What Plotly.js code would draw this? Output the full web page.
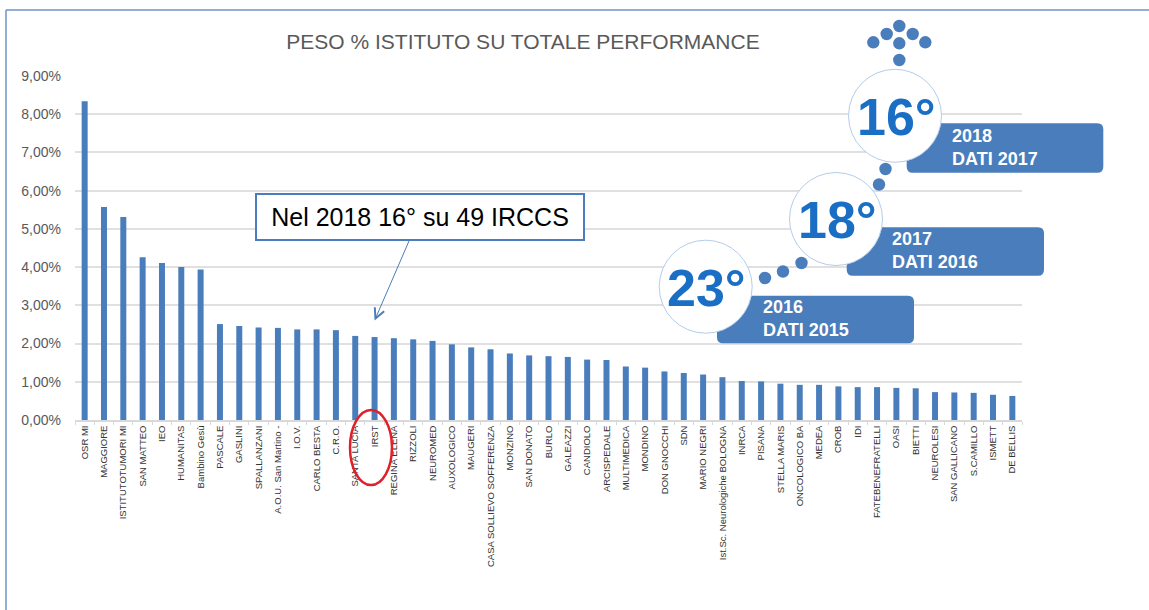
<!DOCTYPE html>
<html>
<head>
<meta charset="utf-8">
<script src="https://cdn.plot.ly/plotly-3.0.1.min.js"></script>
<style>
  body { margin: 0; background: #fff; }
  #chart { width: 1149px; height: 610px; }
</style>
</head>
<body>
<div id="chart"></div>
<script>
// peso % di ogni istituto sul totale performance
var istituti = ["OSR MI", "MAGGIORE", "ISTITUTOTUMORI MI", "SAN MATTEO", "IEO", "HUMANITAS",
  "Bambino Gesù", "PASCALE", "GASLINI", "SPALLANZANI", "A.O.U. San Martino -", "I.O.V.",
  "CARLO BESTA", "C.R.O.", "SANTA LUCIA", "IRST", "REGINA ELENA", "RIZZOLI", "NEUROMED",
  "AUXOLOGICO", "MAUGERI", "CASA SOLLIEVO SOFFERENZA", "MONZINO", "SAN DONATO", "BURLO",
  "GALEAZZI", "CANDIOLO", "ARCISPEDALE", "MULTIMEDICA", "MONDINO", "DON GNOCCHI", "SDN",
  "MARIO NEGRI", "Ist.Sc. Neurologiche BOLOGNA", "INRCA", "PISANA", "STELLA MARIS",
  "ONCOLOGICO BA", "MEDEA", "CROB", "IDI", "FATEBENEFRATELLI", "OASI", "BIETTI",
  "NEUROLESI", "SAN GALLICANO", "S.CAMILLO", "ISMETT", "DE BELLIS"];

var peso = [8.34, 5.57, 5.31, 4.26, 4.11, 4.00, 3.94, 2.51, 2.46, 2.42, 2.41, 2.37,
  2.37, 2.35, 2.20, 2.17, 2.14, 2.11, 2.07, 1.98, 1.90, 1.85, 1.74, 1.69, 1.67,
  1.65, 1.58, 1.57, 1.40, 1.37, 1.27, 1.23, 1.19, 1.12, 1.02, 1.01, 0.95,
  0.92, 0.92, 0.88, 0.86, 0.86, 0.84, 0.83, 0.73, 0.72, 0.71, 0.66, 0.63];

var yTicks = [0, 1, 2, 3, 4, 5, 6, 7, 8, 9];
var yTickText = ["0,00%", "1,00%", "2,00%", "3,00%", "4,00%", "5,00%", "6,00%", "7,00%", "8,00%", "9,00%"];

// posizioni (ranking) per anno
var posizioni = ["23°", "18°", "16°"];
var anni = ["2016<br>DATI 2015", "2017<br>DATI 2016", "2018<br>DATI 2017"];

var blu = "#4a7dbb";

// pixel -> paper, per le decorazioni
var L = 75, R = 1022, T = 76, B = 420;
function fx(p) { return (p - L) / (R - L); }
function fy(p) { return (B - p) / (B - T); }

function roundBox(x0, y0, x1, y1, r) {
  var p = "M" + fx(x0 + r) + "," + fy(y0) +
    " L" + fx(x1 - r) + "," + fy(y0) +
    " Q" + fx(x1) + "," + fy(y0) + " " + fx(x1) + "," + fy(y0 + r) +
    " L" + fx(x1) + "," + fy(y1 - r) +
    " Q" + fx(x1) + "," + fy(y1) + " " + fx(x1 - r) + "," + fy(y1) +
    " L" + fx(x0 + r) + "," + fy(y1) +
    " Q" + fx(x0) + "," + fy(y1) + " " + fx(x0) + "," + fy(y1 - r) +
    " L" + fx(x0) + "," + fy(y0 + r) +
    " Q" + fx(x0) + "," + fy(y0) + " " + fx(x0 + r) + "," + fy(y0) + " Z";
  return {type: "path", xref: "paper", yref: "paper", path: p,
    fillcolor: blu, line: {width: 0}, layer: "above"};
}

function circle(cx, cy, r, fill, lineColor, lw) {
  return {type: "circle", xref: "paper", yref: "paper",
    x0: fx(cx - r), x1: fx(cx + r), y0: fy(cy + r), y1: fy(cy - r),
    fillcolor: fill, line: {color: lineColor, width: lw}, layer: "above"};
}

var circles = [[705.7, 286.7], [836, 219], [895, 115.8]];
var boxes = [[717, 295.7, 914, 343.3], [846.7, 227.3, 1044, 275.7], [906.7, 123.3, 1103.3, 172.7]];
var dots = [[765, 278], [783, 271.5], [801.5, 263], [879, 184.5], [885.5, 169],
  [899.3, 60], [899.3, 43.3], [873.3, 42.3], [886.7, 34], [899.3, 26], [912.7, 34], [925.3, 42.3]];

var shapes = [];
// cornice
shapes.push({type: "line", xref: "paper", yref: "paper", x0: fx(6), x1: fx(1149), y0: fy(10), y1: fy(10),
  line: {color: "#6f93c6", width: 1.5}});
shapes.push({type: "line", xref: "paper", yref: "paper", x0: fx(6), x1: fx(6), y0: fy(10), y1: fy(610),
  line: {color: "#6f93c6", width: 1.5}});
boxes.forEach(function (b) { shapes.push(roundBox(b[0], b[1], b[2], b[3], 6)); });
circles.forEach(function (c) { shapes.push(circle(c[0], c[1], 46.5, "#ffffff", "#b4cdea", 1)); });
dots.forEach(function (d) { shapes.push(circle(d[0], d[1], 6.2, blu, blu, 0)); });
// ellisse rossa su IRST
shapes.push({type: "circle", xref: "paper", yref: "paper", x0: fx(350), x1: fx(392), y0: fy(485), y1: fy(410),
  line: {color: "#e0202a", width: 2.5}, layer: "above"});

var annotations = [];
annotations.push({
  x: "IRST", y: 2.6, xref: "x", yref: "y",
  text: "Nel 2018 16° su 49 IRCCS", showarrow: true,
  ax: 45, ay: -104, arrowhead: 5, arrowsize: 2, arrowwidth: 1, arrowcolor: blu,
  font: {family: "Liberation Sans, Arial, sans-serif", size: 25, color: "#000"},
  bgcolor: "#fff", bordercolor: blu, borderwidth: 2, borderpad: 2, width: 322, height: 40
});
posizioni.forEach(function (t, i) {
  annotations.push({
    xref: "paper", yref: "paper", x: fx(circles[i][0] + 1), y: fy(circles[i][1] + 1),
    text: "<b>" + t + "</b>", showarrow: false, xanchor: "center", yanchor: "middle",
    font: {family: "Liberation Sans, Arial, sans-serif", size: 52, color: "#1a6fc4"}
  });
});
var testoX = [760.7, 890, 950];
var testoY = [318.3, 250.3, 147.3];
anni.forEach(function (t, i) {
  annotations.push({
    xref: "paper", yref: "paper", x: fx(testoX[i]), y: fy(testoY[i]),
    text: "<b>" + t + "</b>", showarrow: false, xanchor: "left", yanchor: "middle", align: "left",
    font: {family: "Liberation Sans, Arial, sans-serif", size: 18, color: "#fff"}
  });
});

var trace = {
  x: istituti,
  y: peso,
  type: "bar",
  marker: {color: blu},
  hoverinfo: "x+y"
};

var layout = {
  width: 1149,
  height: 610,
  paper_bgcolor: "#fff",
  plot_bgcolor: "#fff",
  margin: {l: 75, r: 127, t: 76, b: 190},
  bargap: 0.69,
  showlegend: false,
  title: {
    text: "PESO % ISTITUTO SU TOTALE PERFORMANCE",
    x: fx(523), xref: "paper", xanchor: "center",
    y: 1 - 42 / 610, yanchor: "middle",
    font: {family: "Liberation Sans, Arial, sans-serif", size: 21, color: "#595959"}
  },
  xaxis: {
    type: "category",
    tickangle: -90,
    tickfont: {family: "Liberation Sans, Arial, sans-serif", size: 9.5, color: "#333333"},
    showgrid: false,
    showline: true, linecolor: "#d9d9d9", linewidth: 1.5,
    ticks: "outside", tickson: "boundaries", ticklen: 3, tickcolor: "#d9d9d9",
    fixedrange: true
  },
  yaxis: {
    range: [0, 9],
    tickmode: "array",
    tickvals: yTicks,
    ticktext: yTickText,
    ticklabelstandoff: 13,
    tickfont: {family: "Liberation Sans, Arial, sans-serif", size: 14, color: "#595959"},
    showgrid: true, gridcolor: "#e0e0e0", gridwidth: 2,
    zeroline: false,
    showline: false,
    ticks: "",
    fixedrange: true
  },
  shapes: shapes,
  annotations: annotations
};

Plotly.newPlot("chart", [trace], layout, {displayModeBar: false, responsive: false});
</script>
</body>
</html>
